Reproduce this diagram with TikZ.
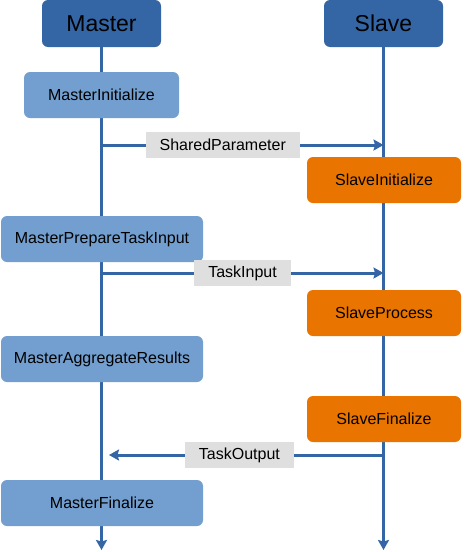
\documentclass[tikz,border=0pt]{standalone}
\usepackage{fontspec}
\setmainfont{Liberation Sans}
\usepackage{xcolor}
\usepackage{tikz}
\usetikzlibrary{arrows.meta}
\usetikzlibrary{calc}
\definecolor{headblue}{HTML}{3465A4}
\definecolor{mastblue}{HTML}{729FCF}
\definecolor{slaveorange}{HTML}{E97500}
\definecolor{labelgrey}{HTML}{DFDFDF}
\tikzset{>={Stealth[length=10pt,width=11pt,inset=1.5pt]}}
\tikzset{
  head/.style={fill=headblue, rounded corners=6pt, minimum width=119pt, minimum height=47pt, font=\fontsize{23}{26}\selectfont},
  mstep/.style={fill=mastblue, rounded corners=6pt, minimum width=202pt, minimum height=46pt, font=\fontsize{16}{19}\selectfont},
  sstep/.style={fill=slaveorange, rounded corners=6pt, minimum width=154pt, minimum height=46pt, font=\fontsize{16}{19}\selectfont},
  life/.style={draw=headblue, line width=3pt},
  msg/.style={fill=labelgrey, inner xsep=14pt, minimum height=26pt, font=\fontsize{16}{19}\selectfont}
}

\begin{document}
\begin{tikzpicture}[x=1pt,y=-1pt]
        \useasboundingbox (0,0) rectangle (464,552);
        % lifelines
        \node[head] (master) at (101.5,23.5) {Master};
        \node[head] (slave) at (383.5,23.5) {Slave};
        \coordinate (mEnd) at (101.5,550);
        \coordinate (sEnd) at (383.5,550);
        \draw[life,->] (master) -- (mEnd);
        \draw[life,->] (slave) -- (sEnd);
        % steps
        \node[mstep, minimum width=155pt] (minit) at (101.5,95) {MasterInitialize};
        \node[sstep] (sinit) at (384,180) {SlaveInitialize};
        \node[mstep] (mprep) at (102,239) {MasterPrepareTaskInput};
        \node[sstep] (sproc) at (384,313) {SlaveProcess};
        \node[mstep] (maggr) at (102,359) {MasterAggregateResults};
        \node[sstep] (sfin) at (384,419) {SlaveFinalize};
        \node[mstep] (mfin) at (102,503) {MasterFinalize};
        % messages
        \coordinate (m1) at (101.5,145);
        \coordinate (s1) at (383.5,145);
        \coordinate (m2) at (101.5,273);
        \coordinate (s2) at (383.5,273);
        \coordinate (s3) at (383.5,455);
        \coordinate (m3) at (109,455);
        \draw[life,->] (m1) -- node[msg,pos=0.43] {SharedParameter} (s1);
        \draw[life,->] (m2) -- node[msg,pos=0.5] {TaskInput} (s2);
        \draw[life,->] (s3) -- node[msg,pos=0.525] {TaskOutput} (m3);
    \end{tikzpicture}
\end{document}
